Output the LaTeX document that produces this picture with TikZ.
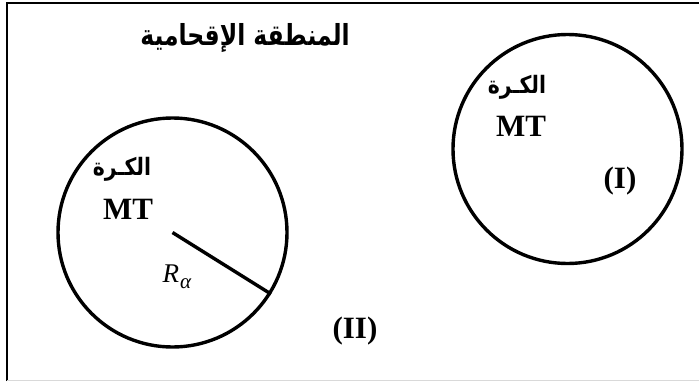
\documentclass[tikz,border=0pt]{standalone}
\usepackage{fontspec}
\setmainfont{Liberation Serif}
\newfontfamily\arabicfont[Script=Arabic]{DejaVu Sans}
\TeXXeTstate=1
\begin{document}
\begin{tikzpicture}[x=1pt,y=-1pt,
  ring/.style={circle,draw,line width=3.4pt,inner sep=0pt,minimum size=229pt},
  lat/.style={inner sep=0pt,font=\fontsize{31}{36}\selectfont\bfseries},
  ar/.style={inner sep=0pt,font=\fontsize{24}{28}\selectfont\arabicfont\bfseries},
  title/.style={inner sep=0pt,font=\fontsize{29}{34}\selectfont\arabicfont\bfseries}]
\useasboundingbox (0,0) rectangle (699,381);
\draw[line width=2pt] (7,381) -- (7,3) -- (699,3);
\draw[gray!30,line width=1pt] (7,380) -- (699,380);
\node[title] (t) at (245,38) {\scalebox{0.81}[1]{\beginR المنطقة الإقحامية\endR}};
\node[ring] (L) at (172.5,232.5) {};
\node[ring] (R) at (567.5,149) {};
\draw[line width=3.4pt] (L.center) -- (L.-32);
\node[ar] (la) at (122,169) {\scalebox{0.85}[1]{\beginR الكـرة\endR}};
\node[lat] (lm) at (128,209) {MT};
\node[inner sep=0pt,font=\fontsize{27}{32}\selectfont\itshape] (ra) at (177,277) {R\kern1pt\raisebox{-6pt}{\fontsize{21}{24}\selectfont α}};
\node[lat] (l2) at (355,331) {(II)};
\node[ar] (ra2) at (517,87) {\scalebox{0.85}[1]{\beginR الكـرة\endR}};
\node[lat] (rm) at (521,126) {MT};
\node[lat] (r1) at (620,181) {(I)};
\end{tikzpicture}
\end{document}
